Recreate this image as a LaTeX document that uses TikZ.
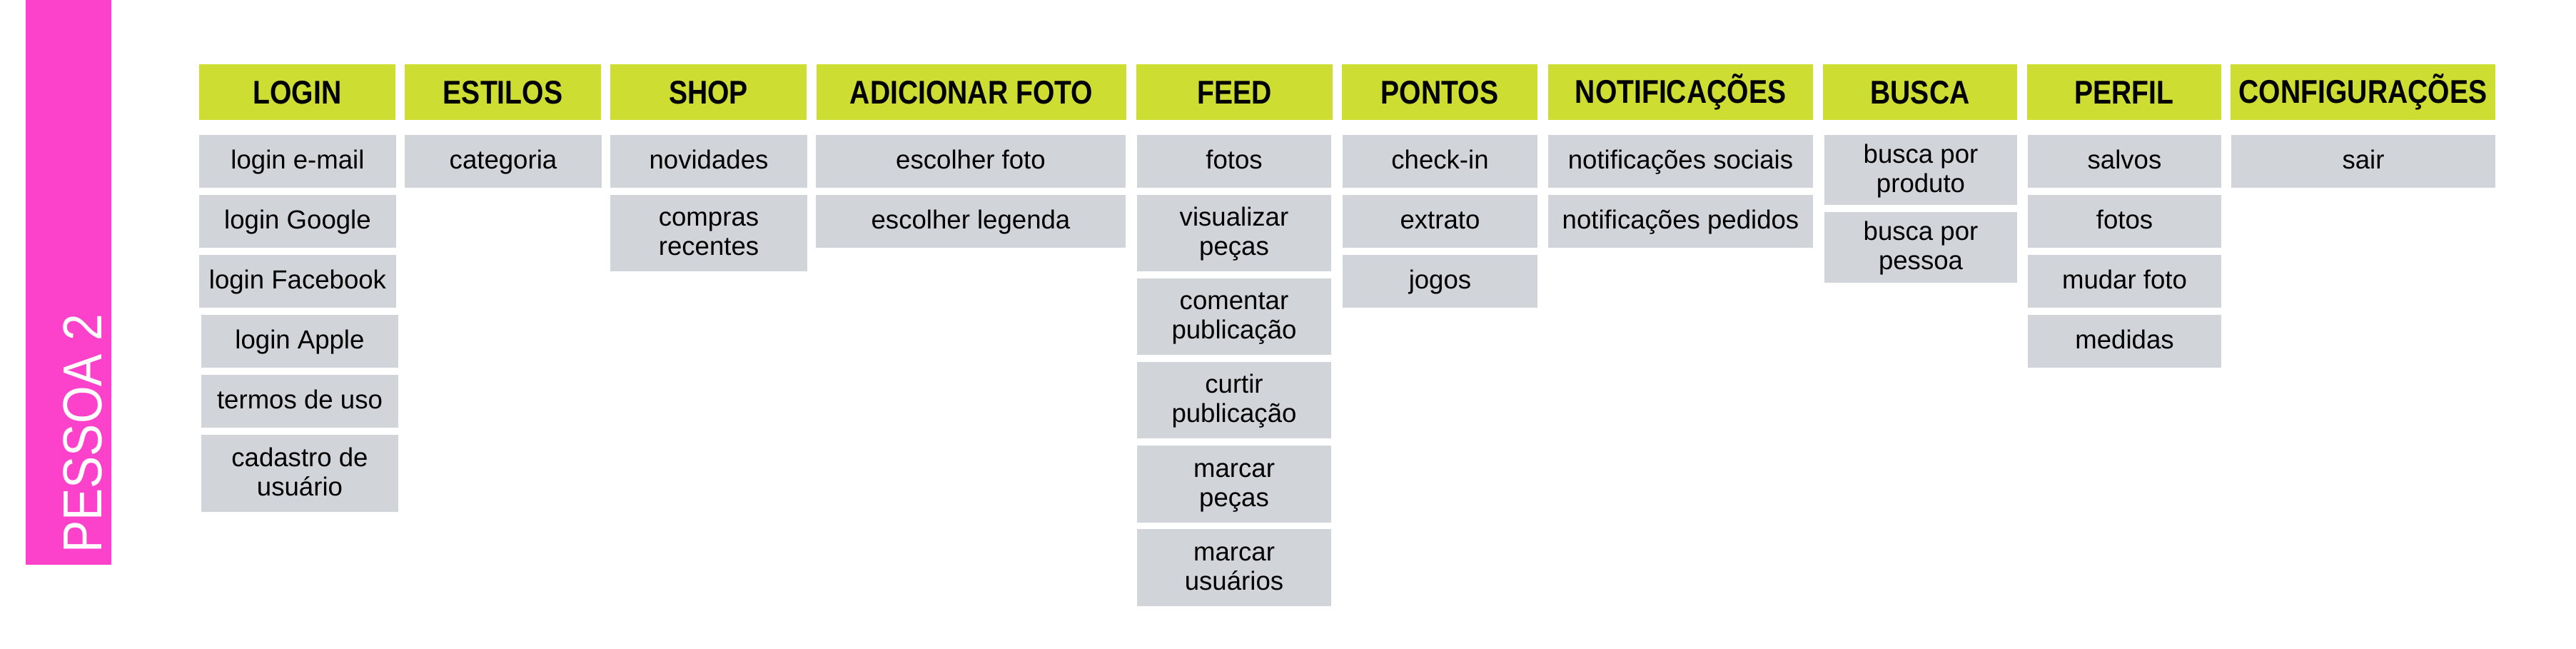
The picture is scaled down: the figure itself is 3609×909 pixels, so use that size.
\documentclass[tikz,border=0pt]{standalone}
\usepackage{fontspec}
\setmainfont{Liberation Sans}
\newfontfamily\headfont[FakeStretch=0.85]{Liberation Sans Bold}
\newfontfamily\labelfont[FakeStretch=0.88]{Liberation Sans}
\definecolor{pinkbar}{HTML}{FC41CB}
\definecolor{limehead}{HTML}{CEDD32}
\definecolor{grayitem}{HTML}{D1D4D9}
\newcommand\itst{\rule[-0.27em]{0pt}{1.12em}}
\newcommand\hdst{\rule[-0.15em]{0pt}{1em}}
\newcommand\one[1]{\itst #1}
\newcommand\two[2]{\itst #1\\\itst #2}
\newcommand\mkbox[7]{\node[#6, minimum width={(#4-#2)*0.5pt}, minimum height={(#5-#3)*0.5pt}] (#1) at ({(#2+#4)/2},{(#3+#5)/2}) {#7};}
\begin{document}
\begin{tikzpicture}[x=0.5pt,y=-0.5pt,
  head/.style={fill=limehead, inner sep=0pt, font=\headfont\fontsize{23}{27}\selectfont, text=black},
  item/.style={fill=grayitem, inner sep=0pt, align=center, font=\fontsize{18.3}{20.5}\selectfont, text=black},
  barbox/.style={fill=pinkbar, inner sep=0pt}]
\useasboundingbox (0,0) rectangle (3609,909);
% side bar
\mkbox{bar}{36}{0}{156}{791}{barbox}{}
\node[rotate=90, anchor=base west, inner sep=0pt, text=white, font=\labelfont\fontsize{38.5}{40}\selectfont] (pessoa) at (142,775) {PESSOA 2};
% headers
\mkbox{hlogin}{279}{90}{554}{168}{head}{\hdst LOGIN}
\mkbox{hestilos}{567}{90}{842}{168}{head}{\hdst ESTILOS}
\mkbox{hshop}{855}{90}{1130}{168}{head}{\hdst SHOP}
\mkbox{hadd}{1144}{90}{1578}{168}{head}{\hdst ADICIONAR FOTO}
\mkbox{hfeed}{1592}{90}{1867}{168}{head}{\hdst FEED}
\mkbox{hpontos}{1880}{90}{2154}{168}{head}{\hdst PONTOS}
\mkbox{hnotif}{2169}{90}{2540}{168}{head}{\hdst NOTIFICAÇÕES}
\mkbox{hbusca}{2554}{90}{2826}{168}{head}{\hdst BUSCA}
\mkbox{hperfil}{2840}{90}{3112}{168}{head}{\hdst PERFIL}
\mkbox{hconfig}{3125}{90}{3496}{168}{head}{\hdst CONFIGURAÇÕES}
% LOGIN
\mkbox{l1}{279}{189}{555}{263}{item}{\one{login e-mail}}
\mkbox{l2}{279}{273}{555}{347}{item}{\one{login Google}}
\mkbox{l3}{279}{357}{555}{431}{item}{\one{login Facebook}}
\mkbox{l4}{282}{441}{558}{515}{item}{\one{login Apple}}
\mkbox{l5}{282}{525}{558}{599}{item}{\one{termos de uso}}
\mkbox{l6}{282}{609}{558}{717}{item}{\two{cadastro de}{usuário}}
% ESTILOS
\mkbox{e1}{567}{189}{843}{263}{item}{\one{categoria}}
% SHOP
\mkbox{s1}{855}{189}{1131}{263}{item}{\one{novidades}}
\mkbox{s2}{855}{273}{1131}{380}{item}{\two{compras}{recentes}}
% ADICIONAR FOTO
\mkbox{a1}{1143}{189}{1577}{263}{item}{\one{escolher foto}}
\mkbox{a2}{1143}{273}{1577}{347}{item}{\one{escolher legenda}}
% FEED
\mkbox{f1}{1593}{189}{1865}{263}{item}{\one{fotos}}
\mkbox{f2}{1593}{273}{1865}{380}{item}{\two{visualizar}{peças}}
\mkbox{f3}{1593}{390}{1865}{497}{item}{\two{comentar}{publicação}}
\mkbox{f4}{1593}{507}{1865}{614}{item}{\two{curtir}{publicação}}
\mkbox{f5}{1593}{624}{1865}{732}{item}{\two{marcar}{peças}}
\mkbox{f6}{1593}{741}{1865}{849}{item}{\two{marcar}{usuários}}
% PONTOS
\mkbox{p1}{1881}{189}{2154}{263}{item}{\one{check-in}}
\mkbox{p2}{1881}{273}{2154}{347}{item}{\one{extrato}}
\mkbox{p3}{1881}{357}{2154}{431}{item}{\one{jogos}}
% NOTIFICACOES
\mkbox{n1}{2169}{189}{2540}{263}{item}{\one{notificações sociais}}
\mkbox{n2}{2169}{273}{2540}{347}{item}{\one{notificações pedidos}}
% BUSCA
\mkbox{b1}{2556}{189}{2826}{287}{item}{\two{busca por}{produto}}
\mkbox{b2}{2556}{297}{2826}{396}{item}{\two{busca por}{pessoa}}
% PERFIL
\mkbox{r1}{2841}{189}{3112}{263}{item}{\one{salvos}}
\mkbox{r2}{2841}{273}{3112}{347}{item}{\one{fotos}}
\mkbox{r3}{2841}{357}{3112}{431}{item}{\one{mudar foto}}
\mkbox{r4}{2841}{441}{3112}{515}{item}{\one{medidas}}
% CONFIGURACOES
\mkbox{c1}{3126}{189}{3496}{263}{item}{\one{sair}}
\end{tikzpicture}
\end{document}
